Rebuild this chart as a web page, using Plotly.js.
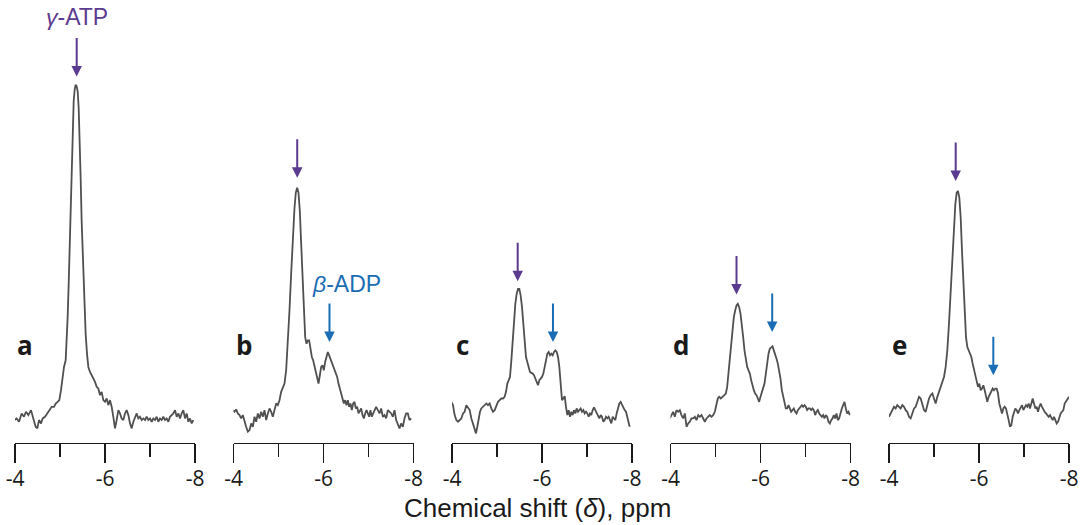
<!DOCTYPE html>
<html>
<head>
<meta charset="utf-8">
<script src="https://cdn.plot.ly/plotly-3.0.1.min.js"></script>
<style>
  html, body { margin: 0; padding: 0; background: #ffffff; }
  #chart { width: 1084px; height: 525px; }
</style>
</head>
<body>
<div id="chart"></div>
<script>
// 31P NMR spectra, five samples (a–e); chemical shift in ppm, intensity in arbitrary units
const panelLabels = ['a', 'b', 'c', 'd', 'e'];

const ppmA = [-3.985,-4.037,-4.089,-4.148,-4.200,-4.244,-4.296,-4.356,-4.407,-4.459,
  -4.496,-4.533,-4.578,-4.615,-4.667,-4.719,-4.763,-4.815,-4.867,-4.904,
  -4.948,-4.985,-5.022,-5.052,-5.089,-5.126,-5.148,-5.170,-5.193,-5.215,
  -5.237,-5.259,-5.281,-5.304,-5.326,-5.348,-5.370,-5.393,-5.415,-5.437,
  -5.459,-5.481,-5.511,-5.541,-5.570,-5.600,-5.630,-5.667,-5.704,-5.741,
  -5.778,-5.815,-5.852,-5.889,-5.926,-5.963,-6.000,-6.037,-6.074,-6.111,
  -6.148,-6.185,-6.222,-6.259,-6.296,-6.333,-6.370,-6.407,-6.444,-6.481,
  -6.519,-6.556,-6.593,-6.630,-6.667,-6.704,-6.741,-6.778,-6.815,-6.852,
  -6.889,-6.926,-6.963,-7.000,-7.037,-7.074,-7.111,-7.148,-7.185,-7.222,
  -7.259,-7.296,-7.333,-7.370,-7.407,-7.444,-7.481,-7.519,-7.556,-7.593,
  -7.630,-7.667,-7.704,-7.741,-7.778,-7.815,-7.852,-7.889,-7.926,-7.963];
const intA = [-1.5,-1.0,-2.0,0.5,-0.5,1.0,0,1.5,-1.0,-3.5,
  -4.0,-1.5,-2.5,-1.0,-0.5,0.5,1.5,2.5,2.5,3.5,
  4.0,4.5,7.5,11.5,14.5,16.5,21.5,29.5,39.5,51.5,
  63.5,75.5,86.5,94.5,98.0,99.5,99.0,97.5,92.5,83.5,
  71.5,58.5,45.5,33.5,24.5,18.5,14.5,13.0,12.0,11.0,
  10.0,8.5,8.0,6.0,7.0,4.5,4.0,5.0,3.0,4.5,
  2.5,-0.5,-4.0,-1.5,1.5,0.5,-1.0,-1.5,0.5,1.5,
  0,-2.5,-4.0,-2.0,-0.5,0.5,-1.0,-0.5,-1.5,-1.0,
  -1.5,-0.5,-1.5,-1.0,-2.0,-1.0,-1.5,-0.5,-2.0,-1.0,
  -1.5,-0.5,-1.5,-1.0,-2.0,-0.5,0,0.5,1.5,-0.5,
  0.5,-1.0,0.5,1.5,-1.0,0.5,-2.0,-1.0,-2.5,-1.5];

const ppmB = [-3.985,-4.022,-4.059,-4.096,-4.133,-4.170,-4.207,-4.244,-4.281,-4.319,
  -4.356,-4.393,-4.430,-4.467,-4.504,-4.541,-4.578,-4.615,-4.652,-4.689,
  -4.726,-4.763,-4.800,-4.837,-4.874,-4.911,-4.948,-4.985,-5.022,-5.059,
  -5.096,-5.133,-5.170,-5.207,-5.244,-5.281,-5.319,-5.356,-5.385,-5.415,
  -5.444,-5.474,-5.504,-5.533,-5.563,-5.593,-5.622,-5.652,-5.681,-5.711,
  -5.741,-5.770,-5.800,-5.830,-5.859,-5.889,-5.919,-5.948,-5.978,-6.007,
  -6.037,-6.067,-6.096,-6.126,-6.156,-6.185,-6.215,-6.244,-6.274,-6.304,
  -6.333,-6.363,-6.393,-6.422,-6.452,-6.481,-6.511,-6.541,-6.570,-6.600,
  -6.630,-6.659,-6.689,-6.719,-6.748,-6.778,-6.807,-6.837,-6.867,-6.896,
  -6.926,-6.956,-6.985,-7.015,-7.044,-7.074,-7.104,-7.133,-7.170,-7.207,
  -7.244,-7.281,-7.319,-7.356,-7.393,-7.430,-7.467,-7.504,-7.541,-7.578,
  -7.615,-7.652,-7.689,-7.726,-7.763,-7.800,-7.837,-7.874,-7.911,-7.948];
const intB = [1.5,1.0,1.7,0.5,0,-1.0,0,-2.0,-3.5,-5.0,
  -4.5,-2.5,-3.5,-0.5,-2.0,0.5,-1.0,1.0,-0.5,1.5,
  -1.5,0.5,2.0,1.0,-0.5,1.5,3.5,3.0,4.5,7.0,
  8.0,9.5,13.5,21.5,31.5,42.5,53.5,62.5,67.0,68.5,
  67.0,61.5,51.5,40.5,30.5,23.5,21.5,22.5,22.5,19.5,
  17.5,16.5,14.5,12.5,11.0,9.5,12.0,14.5,15.0,13.5,
  16.0,17.5,19.0,18.0,17.0,15.5,15.0,13.5,13.0,11.5,
  9.5,8.0,6.5,5.0,3.5,4.5,3.0,4.5,2.5,3.5,
  1.5,3.5,4.0,2.0,2.5,0.5,1.5,2.0,0,-1.0,
  0.5,1.5,0.5,-0.5,1.5,-0.5,0.5,1.5,2.5,1.5,
  0.5,2.0,-0.5,0,-1.0,1.5,1.0,0.5,-0.5,1.5,
  -1.5,-3.0,-4.0,-2.5,-3.5,-1.0,0.5,0.5,-1.5,-1.0];

const ppmC = [-3.985,-4.022,-4.059,-4.096,-4.133,-4.170,-4.207,-4.244,-4.281,-4.319,
  -4.356,-4.393,-4.430,-4.467,-4.504,-4.533,-4.563,-4.593,-4.622,-4.652,
  -4.689,-4.726,-4.763,-4.800,-4.837,-4.874,-4.911,-4.948,-4.985,-5.022,
  -5.059,-5.096,-5.133,-5.170,-5.200,-5.230,-5.259,-5.289,-5.319,-5.348,
  -5.378,-5.407,-5.437,-5.467,-5.496,-5.526,-5.556,-5.585,-5.615,-5.644,
  -5.674,-5.704,-5.733,-5.763,-5.793,-5.822,-5.852,-5.881,-5.911,-5.941,
  -5.970,-6.000,-6.030,-6.059,-6.089,-6.119,-6.148,-6.178,-6.207,-6.237,
  -6.267,-6.296,-6.326,-6.356,-6.385,-6.415,-6.444,-6.474,-6.504,-6.533,
  -6.563,-6.593,-6.622,-6.652,-6.681,-6.711,-6.741,-6.770,-6.800,-6.830,
  -6.859,-6.889,-6.919,-6.948,-6.978,-7.007,-7.037,-7.067,-7.096,-7.126,
  -7.156,-7.185,-7.215,-7.244,-7.274,-7.304,-7.333,-7.363,-7.393,-7.422,
  -7.452,-7.481,-7.511,-7.541,-7.570,-7.600,-7.630,-7.659,-7.689,-7.719,
  -7.748,-7.778,-7.807,-7.837,-7.867,-7.896,-7.926,-7.948];
const intC = [4.0,3.0,0,-1.5,-2.0,-1.5,-1.0,0.5,1.0,3.0,
  2.0,1.5,-1.0,-2.5,-4.5,-5.5,-3.5,-0.5,1.0,2.0,
  2.5,3.0,3.5,3.0,3.5,2.0,1.0,1.5,3.0,4.0,
  4.5,5.0,5.0,5.5,7.0,9.5,10.5,11.5,16.5,22.5,
  28.5,33.5,36.5,38.0,38.0,36.0,32.5,27.5,22.5,17.5,
  16.0,14.5,13.0,12.7,12.5,12.0,11.0,9.5,9.0,10.5,
  11.0,11.5,12.5,14.5,17.0,18.5,19.0,18.0,18.5,18.0,
  19.0,19.5,19.0,17.5,14.5,9.5,4.5,5.0,5.7,2.5,
  0,1.5,-0.5,1.0,0,1.5,0.5,2.0,1.0,1.5,
  2.0,1.0,1.5,0.5,1.0,0.5,-0.5,0.5,0,1.5,
  2.3,1.5,0.5,-0.5,-1.0,0,-0.5,-2.0,-1.5,-0.5,
  -1.0,-0.5,-1.5,-2.5,-0.5,-1.0,-1.5,0.5,2.5,3.5,
  4.0,3.0,2.5,1.5,1.0,-1.0,-2.5,-3.5];

const ppmD = [-3.985,-4.022,-4.059,-4.096,-4.133,-4.170,-4.207,-4.244,-4.281,-4.319,
  -4.356,-4.393,-4.430,-4.467,-4.504,-4.541,-4.578,-4.615,-4.652,-4.689,
  -4.726,-4.763,-4.800,-4.837,-4.874,-4.911,-4.948,-4.985,-5.022,-5.052,
  -5.081,-5.119,-5.156,-5.193,-5.230,-5.259,-5.289,-5.319,-5.348,-5.378,
  -5.407,-5.437,-5.467,-5.496,-5.526,-5.556,-5.585,-5.615,-5.644,-5.674,
  -5.704,-5.733,-5.763,-5.793,-5.822,-5.852,-5.881,-5.911,-5.941,-5.970,
  -6.000,-6.030,-6.059,-6.089,-6.119,-6.148,-6.178,-6.207,-6.237,-6.267,
  -6.296,-6.326,-6.356,-6.385,-6.415,-6.444,-6.474,-6.504,-6.533,-6.563,
  -6.593,-6.622,-6.652,-6.681,-6.711,-6.741,-6.770,-6.800,-6.830,-6.859,
  -6.889,-6.919,-6.948,-6.978,-7.007,-7.037,-7.067,-7.096,-7.126,-7.156,
  -7.185,-7.215,-7.244,-7.274,-7.304,-7.333,-7.363,-7.393,-7.422,-7.452,
  -7.481,-7.511,-7.541,-7.570,-7.600,-7.630,-7.659,-7.689,-7.719,-7.748,
  -7.778,-7.807,-7.837,-7.867,-7.896,-7.926,-7.956,-7.985];
const intD = [-1.0,0,1.0,-0.5,1.5,1.0,1.5,0,-1.0,0.5,
  -3.5,-2.5,-2.0,-1.0,-1.0,-0.5,-1.5,0,-0.5,0,
  -1.0,-2.0,-1.0,-0.5,0,-0.5,0,1.0,3.0,5.0,
  5.5,5.0,5.5,6.0,6.5,8.5,12.5,17.5,22.5,26.5,
  29.5,31.5,33.0,33.5,32.5,30.5,27.5,23.5,19.5,16.5,
  14.5,13.5,12.5,10.5,8.5,7.5,6.5,6.0,5.0,4.0,
  5.5,7.0,8.5,9.5,12.5,16.5,18.5,20.0,20.5,20.7,
  19.5,18.5,17.0,15.5,13.5,11.0,7.5,5.5,3.5,2.0,
  2.0,3.0,2.0,1.0,1.5,2.0,1.0,0.5,1.5,2.0,
  2.5,3.0,2.5,3.0,2.5,1.5,2.0,2.0,1.5,2.0,
  1.5,0,1.0,1.5,0.5,0,-0.5,0,-1.0,0,
  -0.5,-2.0,-2.5,-1.5,-1.0,0,-1.0,0.5,-1.5,-1.0,
  1.0,2.0,3.0,4.0,2.0,0.5,1.0,0];

const ppmE = [-4.000,-4.037,-4.074,-4.111,-4.148,-4.185,-4.222,-4.259,-4.296,-4.333,
  -4.370,-4.407,-4.444,-4.481,-4.519,-4.556,-4.593,-4.630,-4.667,-4.704,
  -4.741,-4.778,-4.815,-4.852,-4.889,-4.926,-4.963,-5.000,-5.037,-5.074,
  -5.111,-5.148,-5.185,-5.222,-5.259,-5.296,-5.333,-5.370,-5.407,-5.444,
  -5.474,-5.504,-5.533,-5.563,-5.593,-5.622,-5.652,-5.681,-5.711,-5.741,
  -5.770,-5.800,-5.830,-5.859,-5.889,-5.919,-5.948,-5.978,-6.007,-6.037,
  -6.067,-6.096,-6.126,-6.156,-6.185,-6.215,-6.244,-6.274,-6.304,-6.333,
  -6.363,-6.393,-6.422,-6.452,-6.481,-6.511,-6.541,-6.570,-6.600,-6.630,
  -6.659,-6.689,-6.719,-6.748,-6.778,-6.807,-6.837,-6.867,-6.896,-6.926,
  -6.956,-6.985,-7.015,-7.044,-7.074,-7.104,-7.133,-7.163,-7.193,-7.222,
  -7.252,-7.281,-7.311,-7.341,-7.370,-7.400,-7.430,-7.459,-7.489,-7.519,
  -7.548,-7.578,-7.607,-7.637,-7.667,-7.696,-7.726,-7.756,-7.785,-7.815,
  -7.844,-7.874,-7.904,-7.933,-7.963,-8.000];
const intE = [-0.5,0.5,1.5,2.5,2.0,3.0,2.5,2.0,3.0,2.5,
  1.5,1.0,-0.5,-1.0,0.5,2.0,2.5,4.0,5.5,5.0,
  3.5,1.5,1.0,3.5,5.0,6.0,6.5,5.0,3.5,5.5,
  7.0,8.0,9.5,11.5,14.5,19.5,27.5,37.5,47.5,57.5,
  63.5,67.0,67.5,65.5,59.5,49.5,39.5,30.5,23.5,20.5,
  19.5,19.0,17.5,15.5,13.5,11.5,9.5,8.5,9.5,7.5,
  8.0,9.0,7.5,6.0,4.0,5.5,6.5,7.5,8.0,7.5,
  8.0,8.0,6.5,3.5,1.5,0.5,2.0,2.5,2.0,0.5,
  -1.5,-3.5,-3.0,-0.5,0.5,2.0,1.5,0.5,1.5,2.5,
  3.0,1.5,2.5,3.0,2.5,3.5,2.0,3.5,5.0,3.5,
  2.0,2.5,1.0,2.5,3.5,2.5,1.5,1.0,0.5,0,
  -0.5,0,-1.0,-1.5,-0.5,-1.5,-2.5,-2.0,-0.5,0.5,
  1.0,1.5,3.5,4.0,4.5,5.5];

// Peak markers: arrow tip position (ppm, intensity) per panel; null = no arrow
const atpPpm = [-5.371, -5.416, -5.460, -5.467, -5.482];
const atpTip = [102.0, 71.5, 40.3, 36.3, 70.5];
const adpPpm = [null, -6.133, -6.244, -6.260, -6.318];
const adpTip = [null, 22.0, 22.0, 25.0, 12.0];

const tickVals = [-4, -6, -8];
const tickText = ['-4', '-6', '-8'];
const minorTickVals = [-5, -7];

const ppmSets = [ppmA, ppmB, ppmC, ppmD, ppmE];
const intSets = [intA, intB, intC, intD, intE];

const W = 1084, H = 525;
const purple = '#5b3b8f';
const blue = '#1a6db5';
const yRange = [-8.4, 125];
const yDomain = [(H - 443) / H, (H - 0) / H];

const traces = [];
const layout = {
  width: W, height: H,
  margin: { l: 0, r: 0, t: 0, b: 0 },
  paper_bgcolor: '#ffffff',
  plot_bgcolor: 'rgba(0,0,0,0)',
  showlegend: false,
  annotations: []
};

for (let i = 0; i < 5; i++) {
  const n = i === 0 ? '' : String(i + 1);
  const left = 15 + i * 218.5;
  traces.push({
    type: 'scatter', mode: 'lines',
    x: ppmSets[i], y: intSets[i],
    xaxis: 'x' + n, yaxis: 'y' + n,
    line: { color: '#505050', width: 1.8 },
    hoverinfo: 'skip'
  });
  layout['xaxis' + n] = {
    domain: [left / W, (left + 180) / W],
    range: [-4, -8],
    anchor: 'y' + n,
    showgrid: false, zeroline: false,
    showline: true, linecolor: '#1a1a1a', linewidth: 1.3,
    ticks: 'outside', ticklen: 19, tickwidth: 1.3, tickcolor: '#1a1a1a',
    tickmode: 'array', tickvals: tickVals, ticktext: tickText,
    ticklabelstandoff: -3,
    tickfont: { family: 'Open Sans', size: 21, color: '#1a1a1a' },
    minor: { tickmode: 'array', tickvals: minorTickVals, ticks: 'outside',
             ticklen: 13, tickwidth: 1.3, tickcolor: '#1a1a1a', showgrid: false },
    fixedrange: true
  };
  layout['yaxis' + n] = {
    domain: yDomain, range: yRange, anchor: 'x' + n,
    visible: false, fixedrange: true
  };

  // panel letter
  layout.annotations.push({
    xref: 'paper', yref: 'paper',
    x: (left + 10) / W, y: (H - 345) / H,
    xanchor: 'center', yanchor: 'middle',
    text: '<b>' + panelLabels[i] + '</b>', showarrow: false,
    font: { family: 'Open Sans', size: 26, color: '#1a1a1a' }
  });

  // γ-ATP arrow
  layout.annotations.push({
    xref: 'x' + n, yref: 'y' + n, x: atpPpm[i], y: atpTip[i],
    ax: 0, ay: -40, text: '', showarrow: true,
    arrowhead: 2, arrowsize: 1.05, arrowwidth: 2, arrowcolor: purple
  });
  // β-ADP arrow
  if (adpPpm[i] !== null) {
    layout.annotations.push({
      xref: 'x' + n, yref: 'y' + n, x: adpPpm[i], y: adpTip[i],
      ax: 0, ay: -40, text: '', showarrow: true,
      arrowhead: 2, arrowsize: 1.05, arrowwidth: 2, arrowcolor: blue
    });
  }
}

// species labels
layout.annotations.push({
  xref: 'x', yref: 'paper', x: -5.38, y: (H - 17) / H,
  xanchor: 'center', yanchor: 'middle', showarrow: false,
  text: '<i>γ</i>-ATP',
  font: { family: 'Liberation Sans', size: 23, color: purple }
});
layout.annotations.push({
  xref: 'x2', yref: 'y2', x: -6.504, y: 39.6,
  xanchor: 'center', yanchor: 'middle', showarrow: false,
  text: '<i>β</i>-ADP',
  font: { family: 'Liberation Sans', size: 23, color: blue }
});

// shared x-axis title
layout.annotations.push({
  xref: 'paper', yref: 'paper', x: 537 / W, y: (H - 508) / H,
  xanchor: 'center', yanchor: 'middle', showarrow: false,
  text: 'Chemical shift (<i>δ</i>), ppm',
  font: { family: 'Liberation Sans', size: 26, color: '#1a1a1a' }
});

Plotly.newPlot('chart', traces, layout, { displayModeBar: false, staticPlot: true });
</script>
</body>
</html>
